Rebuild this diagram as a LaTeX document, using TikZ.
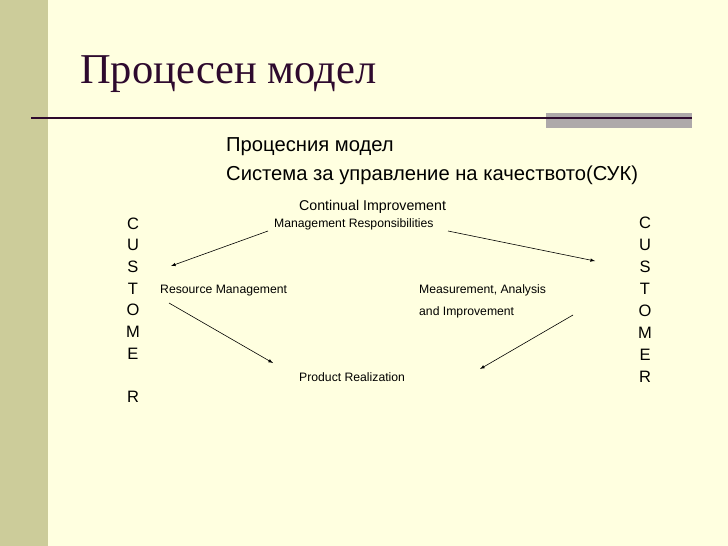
\documentclass[tikz,border=0pt]{standalone}
\usepackage{fontspec}
\setmainfont{Liberation Serif}
\setsansfont{Liberation Sans}
\usepackage{tikz}
\usetikzlibrary{arrows}
\definecolor{slidebg}{HTML}{FFFFE0}
\definecolor{slidestrip}{HTML}{CCCC9A}
\definecolor{titleplum}{HTML}{2E0A2E}
\definecolor{bandgray}{HTML}{AEA9AA}
\tikzset{
  plaintext/.style = {inner sep=0pt, anchor=base west, font=\sffamily},
  titletext/.style = {inner sep=0pt, anchor=base west, titleplum,
    font=\rmfamily\fontsize{42.5}{46}\selectfont},
  headtext/.style = {plaintext, font=\sffamily\fontsize{20.2}{23}\selectfont},
  bigstep/.style = {plaintext, font=\sffamily\fontsize{14.2}{16}\selectfont},
  smallstep/.style = {plaintext, font=\sffamily\fontsize{12.2}{14}\selectfont},
  custletter/.style = {inner sep=0pt, anchor=base,
    font=\sffamily\fontsize{16.5}{18}\selectfont},
  flow/.style = {-latex, line width=0.6pt, black}
}
\begin{document}
\begin{tikzpicture}[x=1pt,y=-1pt]
  % slide background
  \fill[slidebg] (0,0) rectangle (728,546);
  \fill[slidestrip] (0,0) rectangle (48,546);
  \useasboundingbox (0,0) rectangle (728,546);
  % title and rule
  \node[titletext] (title) at (80,83) {Процесен модел};
  \fill[bandgray] (546,113) rectangle (692,128);
  \draw[titleplum, line width=2pt] (31,118) -- (692,118);
  \node[headtext] (head1) at (226,151) {Процесния модел};
  \node[headtext] (head2) at (226,180) {Система за управление на качеството(СУК)};
  % process steps
  \node[bigstep] (cont) at (299,210) {Continual Improvement};
  \node[smallstep] (mgmt) at (274,227) {Management Responsibilities};
  \node[smallstep] (res) at (160,293) {Resource Management};
  \node[smallstep] (meas) at (419,293) {Measurement, Analysis};
  \node[smallstep] (meas2) at (419,315) {and Improvement};
  \node[smallstep] (prod) at (299,381) {Product Realization};
  % customer columns
  \foreach \ch [count=\i] in {C,U,S,T,O,M,E,{},R}
    \node[custletter] (lc\i) at (133,229+21.7*\i-21.7) {\ch};
  \foreach \ch [count=\i] in {C,U,S,T,O,M,E,R}
    \node[custletter] (rc\i) at (645,228+22*\i-22) {\ch};
  % arrows
  \coordinate (a1s) at (268,231); \coordinate (a1e) at (171,266);
  \coordinate (a2s) at (448,231); \coordinate (a2e) at (595,261);
  \coordinate (a3s) at (169,303); \coordinate (a3e) at (273,363);
  \coordinate (a4s) at (573,315); \coordinate (a4e) at (480,369);
  \draw[flow] (a1s) -- (a1e);
  \draw[flow] (a2s) -- (a2e);
  \draw[flow] (a3s) -- (a3e);
  \draw[flow] (a4s) -- (a4e);
\end{tikzpicture}
\end{document}
